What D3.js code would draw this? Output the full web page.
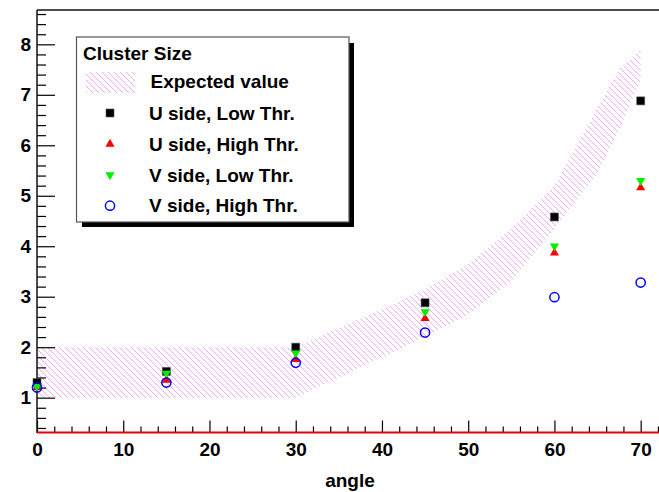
<!DOCTYPE html>
<html>
<head>
<meta charset="utf-8">
<script src="https://cdn.jsdelivr.net/npm/d3@7"></script>
<style>
body { margin: 0; background: #fff; }
text { font-family: "Liberation Sans", Arial, Helvetica, sans-serif; font-weight: bold; }
</style>
</head>
<body>
<div id="chart"></div>
<script>
// measured points
const angles = [0, 15, 30, 45, 60, 70];
const uLow  = [1.30, 1.52, 2.00, 2.88, 4.58, 6.88];
const uHigh = [1.20, 1.35, 1.76, 2.57, 3.87, 5.16];
const vLow  = [1.22, 1.48, 1.88, 2.70, 4.00, 5.30];
const vHigh = [1.20, 1.30, 1.69, 2.29, 2.99, 3.28];

// expected value band
const bandAngles = [0, 30, 35, 40, 45, 50, 55, 60, 65, 67.5, 70];
const bandUpper  = [2.0, 2.0, 2.38, 2.75, 3.15, 3.65, 4.35, 5.2, 6.75, 7.5, 7.9];
const bandLower  = [1.0, 1.0, 1.4, 1.8, 2.2, 2.65, 3.3, 4.35, 5.45, 6.3, 7.3];

const xTicks = [0, 10, 20, 30, 40, 50, 60, 70];
const yTicks = [1, 2, 3, 4, 5, 6, 7, 8];
const legendTitle = "Cluster Size";
const legendNames = ["Expected value", "U side, Low Thr.", "U side, High Thr.", "V side, Low Thr.", "V side, High Thr."];

const W = 659, H = 492;
const hatchCol = "#eeaaf5";

var svg = d3.select("#chart")
  .append("svg")
    .attr("width", W)
    .attr("height", H);

svg.append("rect").attr("width", W).attr("height", H).attr("fill", "#fff");

var defs = svg.append("defs");
var pat = defs.append("pattern")
    .attr("id", "hatch")
    .attr("patternUnits", "userSpaceOnUse")
    .attr("width", 6)
    .attr("height", 6);
pat.append("path")
    .attr("d", "M0,0 L6,6 M-1,5 L1,7 M5,-1 L7,1")
    .attr("stroke", hatchCol)
    .attr("stroke-width", 1);

var x = d3.scaleLinear().domain([0, 75]).range([37, 37 + 75 * 8.624]);
var y = d3.scaleLinear().domain([0.31, 8.68]).range([432.5, 10]);

// band polygon
var bandPts = bandAngles.map((a, i) => [x(a), y(bandUpper[i])])
  .concat(bandAngles.map((a, i) => [x(a), y(bandLower[i])]).reverse());
svg.append("path")
    .attr("d", d3.line()(bandPts) + "Z")
    .attr("fill", "url(#hatch)")
    .attr("stroke", "none");

// y axis, ticks point inwards
var yMinor = d3.range(0.4, 8.61, 0.2).filter(v => Math.abs(v - Math.round(v)) > 0.01);
svg.append("g")
    .attr("transform", "translate(37,0)")
    .call(d3.axisLeft(y).tickValues(yMinor).tickSize(-9).tickFormat(""))
    .call(g => g.select(".domain").remove());
var yAx = svg.append("g")
    .attr("transform", "translate(37,0)")
    .call(d3.axisLeft(y).tickValues(yTicks).tickSize(-18).tickPadding(6).tickFormat(d3.format("d")))
    .call(g => g.select(".domain").remove());

// x axis
var xMinor = d3.range(2, 75, 2).filter(v => v % 10 != 0);
svg.append("g")
    .attr("transform", "translate(0,432.5)")
    .call(d3.axisBottom(x).tickValues(xMinor).tickSize(-6).tickFormat(""))
    .call(g => g.select(".domain").remove());
var xAx = svg.append("g")
    .attr("transform", "translate(0,432.5)")
    .call(d3.axisBottom(x).tickValues(xTicks).tickSize(-12).tickPadding(10).tickFormat(d3.format("d")))
    .call(g => g.select(".domain").remove());

svg.selectAll(".tick line").attr("stroke", "#000").attr("stroke-width", 1.2);
svg.selectAll(".tick text")
    .attr("font-size", 19)
    .attr("font-family", "Liberation Sans, Arial, sans-serif")
    .attr("font-weight", "bold")
    .attr("fill", "#000");

// frame lines
svg.append("line")
    .attr("x1", 37).attr("x2", W).attr("y1", 10).attr("y2", 10)
    .attr("stroke", "#111").attr("stroke-width", 1.5);
svg.append("line")
    .attr("x1", 37).attr("x2", 37).attr("y1", 10).attr("y2", 433)
    .attr("stroke", "#111").attr("stroke-width", 1.5);
svg.append("line")
    .attr("x1", 37).attr("x2", W).attr("y1", 432.5).attr("y2", 432.5)
    .attr("stroke", "#e8000b").attr("stroke-width", 2);

// markers
var sq = d3.symbol().type(d3.symbolSquare).size(64);
var tri = d3.symbol().type(d3.symbolTriangle).size(36);

function drawSeries(vals, kind) {
  var g = svg.append("g");
  var pts = g.selectAll("path").data(angles.map((a, i) => ({a: a, v: vals[i]}))).enter();
  if (kind == "sq") {
    pts.append("path").attr("d", sq)
      .attr("transform", d => "translate(" + x(d.a) + "," + y(d.v) + ")")
      .attr("fill", "#000").attr("stroke", "#555").attr("stroke-width", 0.6);
  } else if (kind == "up") {
    pts.append("path").attr("d", tri)
      .attr("transform", d => "translate(" + x(d.a) + "," + y(d.v) + ")")
      .attr("fill", "#ff0000");
  } else if (kind == "down") {
    pts.append("path").attr("d", tri)
      .attr("transform", d => "translate(" + x(d.a) + "," + y(d.v) + ") rotate(180)")
      .attr("fill", "#00ee00");
  } else {
    pts.append("circle")
      .attr("cx", d => x(d.a)).attr("cy", d => y(d.v)).attr("r", 4.6)
      .attr("fill", "none").attr("stroke", "#0000ff").attr("stroke-width", 1.5);
  }
}
drawSeries(uLow, "sq");
drawSeries(uHigh, "up");
drawSeries(vLow, "down");
drawSeries(vHigh, "circle");

// axis title
svg.append("text")
    .attr("x", 350)
    .attr("y", 487)
    .attr("text-anchor", "middle")
    .attr("font-size", 19)
    .text("angle");

// legend
svg.append("rect")
    .attr("x", 82).attr("y", 43).attr("width", 272).attr("height", 184)
    .attr("fill", "#000");
svg.append("rect")
    .attr("x", 76.5).attr("y", 37).attr("width", 272.5).attr("height", 185)
    .attr("fill", "#fff").attr("stroke", "#555").attr("stroke-width", 1.2);

svg.append("text")
    .attr("x", 83).attr("y", 60)
    .attr("font-size", 19)
    .text(legendTitle);

var rowY = [81.7, 113, 144, 175, 205.7];
svg.append("rect")
    .attr("x", 86).attr("y", 72).attr("width", 49).attr("height", 21)
    .attr("fill", "url(#hatch)");
svg.append("path").attr("d", sq).attr("transform", "translate(110," + rowY[1] + ")")
    .attr("fill", "#000").attr("stroke", "#555").attr("stroke-width", 0.6);
svg.append("path").attr("d", tri).attr("transform", "translate(110," + rowY[2] + ")")
    .attr("fill", "#ff0000");
svg.append("path").attr("d", tri).attr("transform", "translate(110," + rowY[3] + ") rotate(180)")
    .attr("fill", "#00ee00");
svg.append("circle").attr("cx", 110).attr("cy", rowY[4]).attr("r", 4.6)
    .attr("fill", "none").attr("stroke", "#0000ff").attr("stroke-width", 1.5);

svg.selectAll(".legtext")
  .data(legendNames)
  .enter()
  .append("text")
    .attr("class", "legtext")
    .attr("x", (d, i) => i == 0 ? 150.5 : 149)
    .attr("y", (d, i) => rowY[i])
    .attr("dy", "0.35em")
    .attr("font-size", 19)
    .text(d => d);
</script>
</body>
</html>
